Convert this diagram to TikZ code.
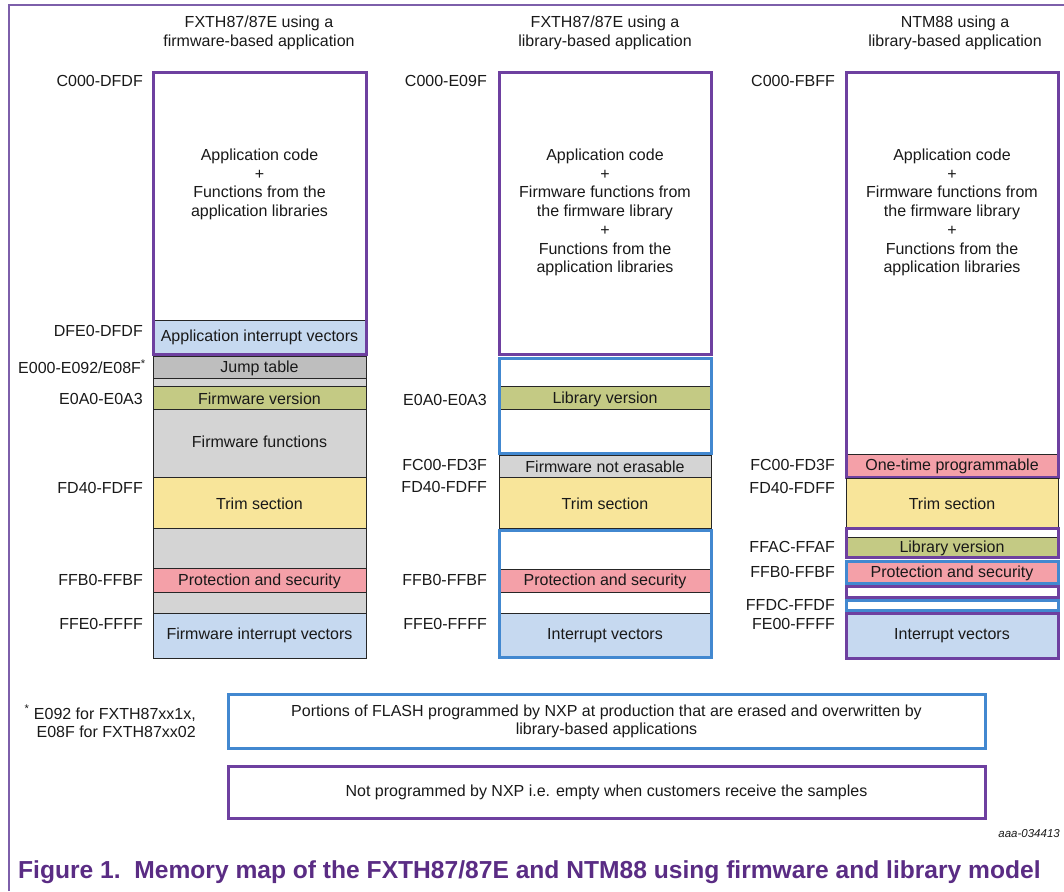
\documentclass[tikz,border=0pt]{standalone}
\usepackage{fontspec}
\setmainfont{Liberation Sans}
\definecolor{nxppurple}{RGB}{110,64,160}
\definecolor{nxpblue}{RGB}{66,136,208}
\definecolor{framepurple}{RGB}{125,95,170}
\definecolor{lblue}{RGB}{198,217,240}
\definecolor{olive}{RGB}{196,202,132}
\definecolor{grayA}{RGB}{212,212,212}
\definecolor{grayB}{RGB}{190,190,190}
\definecolor{trimy}{RGB}{248,229,154}
\definecolor{pinkc}{RGB}{244,160,168}
\definecolor{capc}{RGB}{90,44,132}
\definecolor{txtc}{RGB}{25,25,25}
\begin{document}
\begin{tikzpicture}[x=1pt,y=-1pt,
  seg/.style={draw=black!85, line width=0.9pt},
  pbox/.style={draw=nxppurple, line width=3pt},
  bbox/.style={draw=nxpblue, line width=3pt},
  txt/.style={align=center, inner sep=0pt, yshift=-1.5pt, text=txtc, font=\fontsize{16}{18.7}\selectfont},
  lbl/.style={anchor=east, inner sep=0pt, yshift=-1pt, text=txtc, font=\fontsize{16}{18.7}\selectfont},
  hdr/.style={align=center, inner sep=0pt, yshift=-2pt, text=txtc, font=\fontsize{16}{19}\selectfont}]
\useasboundingbox (0,0) rectangle (1064,891);
% frame
\draw[framepurple, line width=1.2pt] (9,891) -- (9,5) -- (1064,5);

% headers
\node[hdr] (h1) at (259,31) {FXTH87/87E using a\\firmware-based application};
\node[hdr] (h2) at (605,31) {FXTH87/87E using a\\library-based application};
\node[hdr] (h3) at (955,31) {NTM88 using a\\library-based application};

% ---------- column 1 ----------
\filldraw[seg, fill=white] (153,72) rectangle (366,320);
\node[txt] (c1app) at (259.5,183) {Application code\\+\\Functions from the\\application libraries};
\filldraw[seg, fill=lblue] (153,320) rectangle (366,354);
\node[txt] (c1aiv) at (259.5,336) {Application interrupt vectors};
\draw[pbox] (153,72) rectangle (366,354);
\filldraw[seg, fill=grayB] (153,356) rectangle (366,378);
\node[txt] (c1jt) at (259.5,367) {Jump table};
\filldraw[seg, fill=grayA] (153,378) rectangle (366,386);
\filldraw[seg, fill=olive] (153,386) rectangle (366,409);
\node[txt] (c1fv) at (259.5,397.5) {Firmware version};
\filldraw[seg, fill=grayA] (153,409) rectangle (366,477);
\node[txt] (c1ff) at (259.5,440) {Firmware functions};
\filldraw[seg, fill=trimy] (153,477) rectangle (366,528);
\node[txt] (c1trim) at (259.5,502.5) {Trim section};
\filldraw[seg, fill=grayA] (153,528) rectangle (366,568);
\filldraw[seg, fill=pinkc] (153,568) rectangle (366,592);
\node[txt] (c1ps) at (259.5,580) {Protection and security};
\filldraw[seg, fill=grayA] (153,592) rectangle (366,613);
\filldraw[seg, fill=lblue] (153,613) rectangle (366,658);
\node[txt] (c1fiv) at (259.5,634) {Firmware interrupt vectors};

\node[lbl] (l1a) at (143,80) {C000-DFDF};
\node[lbl] (l1b) at (143,330) {DFE0-DFDF};
\node[lbl] (l1c) at (146,366) {E000-E092/E08F\textsuperscript{*}};
\node[lbl] (l1d) at (143,398) {E0A0-E0A3};
\node[lbl] (l1e) at (143,487) {FD40-FDFF};
\node[lbl] (l1f) at (143,579) {FFB0-FFBF};
\node[lbl] (l1g) at (143,623) {FFE0-FFFF};

% ---------- column 2 ----------
\filldraw[seg, fill=white] (499,72) rectangle (711,354);
\node[txt] (c2app) at (605,211) {Application code\\+\\Firmware functions from\\the firmware library\\+\\Functions from the\\application libraries};
\draw[pbox] (499,72) rectangle (711,354);
\filldraw[seg, fill=white] (499,358) rectangle (711,386);
\filldraw[seg, fill=olive] (499,386) rectangle (711,409);
\node[txt] (c2lv) at (605,397.5) {Library version};
\filldraw[seg, fill=white] (499,409) rectangle (711,453);
\draw[bbox] (499,358) rectangle (711,453);
\filldraw[seg, fill=grayA] (499,455) rectangle (711,477);
\node[txt] (c2fne) at (605,465) {Firmware not erasable};
\filldraw[seg, fill=trimy] (499,477) rectangle (711,528);
\node[txt] (c2trim) at (605,502.5) {Trim section};
\filldraw[seg, fill=white] (499,530) rectangle (711,569);
\filldraw[seg, fill=pinkc] (499,569) rectangle (711,592);
\node[txt] (c2ps) at (605,580) {Protection and security};
\filldraw[seg, fill=white] (499,592) rectangle (711,613);
\filldraw[seg, fill=lblue] (499,613) rectangle (711,657);
\node[txt] (c2iv) at (605,634) {Interrupt vectors};
\draw[bbox] (499,530) rectangle (711,657);

\node[lbl] (l2a) at (487,80) {C000-E09F};
\node[lbl] (l2b) at (487,399) {E0A0-E0A3};
\node[lbl] (l2c) at (487,464) {FC00-FD3F};
\node[lbl] (l2d) at (487,486) {FD40-FDFF};
\node[lbl] (l2e) at (487,579) {FFB0-FFBF};
\node[lbl] (l2f) at (487,623) {FFE0-FFFF};

% ---------- column 3 ----------
\filldraw[seg, fill=white] (846,72) rectangle (1058,454);
\node[txt] (c3app) at (952,211) {Application code\\+\\Firmware functions from\\the firmware library\\+\\Functions from the\\application libraries};
\filldraw[seg, fill=pinkc] (846,454) rectangle (1058,477);
\node[txt] (c3otp) at (952,465) {One-time programmable};
\draw[pbox] (846,72) rectangle (1058,477);
\filldraw[seg, fill=trimy] (846,478) rectangle (1058,527);
\node[txt] (c3trim) at (952,502.5) {Trim section};
\filldraw[seg, fill=white] (846,528) rectangle (1058,537);
\filldraw[seg, fill=olive] (846,537) rectangle (1058,557);
\node[txt] (c3lv) at (952,547) {Library version};
\draw[pbox] (846,528) rectangle (1058,557);
\filldraw[bbox, fill=pinkc] (846,561) rectangle (1058,583);
\node[txt] (c3ps) at (952,571.5) {Protection and security};
\filldraw[pbox, fill=white] (846,586) rectangle (1058,597);
\filldraw[bbox, fill=white] (846,600) rectangle (1058,610);
\filldraw[pbox, fill=lblue] (846,613) rectangle (1058,658);
\node[txt] (c3iv) at (952,634) {Interrupt vectors};

\node[lbl] (l3a) at (835,80) {C000-FBFF};
\node[lbl] (l3b) at (835,464) {FC00-FD3F};
\node[lbl] (l3c) at (835,487) {FD40-FDFF};
\node[lbl] (l3d) at (835,546) {FFAC-FFAF};
\node[lbl] (l3e) at (835,571) {FFB0-FFBF};
\node[lbl] (l3f) at (835,604) {FFDC-FFDF};
\node[lbl] (l3g) at (835,623) {FE00-FFFF};

% ---------- legend ----------
\node[txt, align=right, anchor=east] (fn) at (196,720) {\textsuperscript{*} E092 for FXTH87xx1x,\\E08F for FXTH87xx02};
\draw[bbox] (228,694) rectangle (985,748);
\node[txt] (lg1) at (606.5,720) {Portions of FLASH programmed by NXP at production that are erased and overwritten by\\library-based applications};
\draw[pbox] (228,766) rectangle (985,818);
\node[txt] (lg2) at (606.5,791) {Not programmed by NXP i.e. empty when customers receive the samples};

\node[anchor=east, inner sep=0pt, text=txtc, font=\fontsize{11.5}{13}\selectfont\itshape] (id) at (1060,834) {aaa-034413};
\node[anchor=west, inner sep=0pt, text=capc, font=\fontsize{24.6}{28}\selectfont\bfseries] (cap) at (18,872) {Figure 1.\ \ Memory map of the FXTH87/87E and NTM88 using firmware and library model};
\end{tikzpicture}
\end{document}
